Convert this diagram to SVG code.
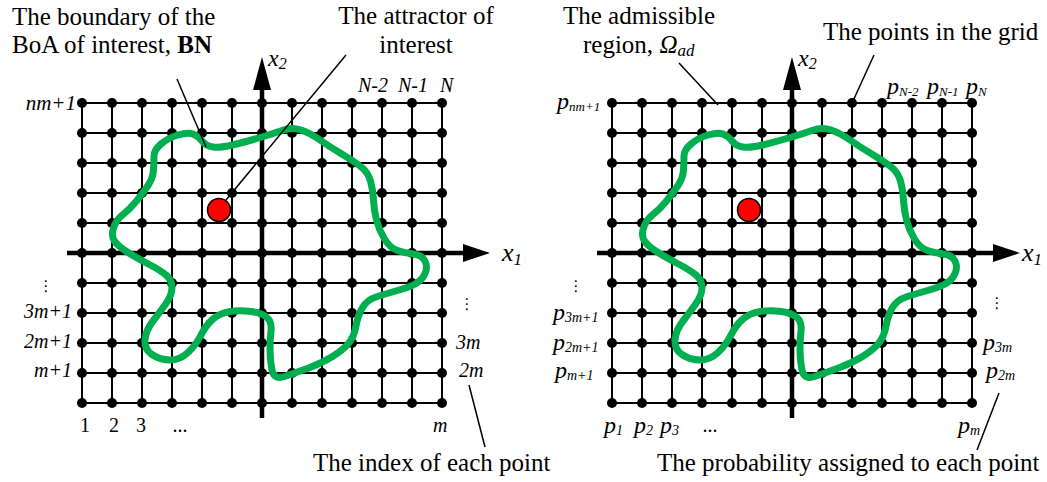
<svg xmlns="http://www.w3.org/2000/svg" width="1047" height="482" viewBox="0 0 1047 482">
<style>
.t{font-family:"Liberation Serif","Times New Roman",serif;font-size:25px;fill:#000}
.i{font-family:"Liberation Serif","Times New Roman",serif;font-style:italic;fill:#000}
.u{font-family:"Liberation Serif","Times New Roman",serif;font-size:20px;fill:#000}
.g{stroke:#000;stroke-width:2;fill:none}
.ax{stroke:#000;stroke-width:4.5;fill:none}
.boa{stroke:#00b050;stroke-width:7;fill:none;stroke-linejoin:round}
.lead{stroke:#000;stroke-width:1.5;fill:none}
.att{fill:#ff0000;stroke:#000;stroke-width:1.5}
.v{font-family:"DejaVu Sans",sans-serif;font-size:15px;fill:#000}
</style>
<defs>
<pattern id="dots" patternUnits="userSpaceOnUse" x="67" y="88" width="30" height="30"><circle cx="15" cy="15" r="5" fill="#000"/></pattern>
<g id="grid">
<path class="g" d="M82 103H442M82 133H442M82 163H442M82 193H442M82 223H442M82 283H442M82 313H442M82 343H442M82 373H442M82 403H442"/>
<path class="g" d="M82 103V403M112 103V403M142 103V403M172 103V403M202 103V403M232 103V403M292 103V403M322 103V403M352 103V403M382 103V403M412 103V403M442 103V403"/>
<path class="ax" d="M67 253H466M262 418V88"/>
<path d="M490 253L463 244L463 262ZM262 57L253 90L271 90Z" fill="#000"/>
<rect x="76" y="97" width="372" height="312" fill="url(#dots)"/>
</g>
<path id="boa" class="boa" d="M301,130 Q310,133 320,140 Q330,147 341,153.5 Q352,160 360,166 Q368,172 370.5,181 Q373,190 373.5,200 Q374,210 376.5,220 Q379,230 384.5,239 Q390,248 397.5,250.5 Q405,253 413.5,254 Q422,255 425,261 Q428,267 425,273.5 Q422,280 416,283.5 Q410,287 397.5,290.5 Q385,294 376,297 Q367,300 362.5,307.5 Q358,315 356,326 Q354,337 348.5,343.5 Q343,350 332.5,356.5 Q322,363 308.5,368 Q295,373 284.5,376.5 Q274,380 272,370 Q270,360 270,350 Q270,340 271,331 Q272,322 267,317.5 Q262,313 251,311.5 Q240,310 230,311.5 Q220,313 213,319 Q206,325 201,335 Q196,345 188,352.5 Q180,360 170,360 Q160,360 152,354.5 Q144,349 145,339.5 Q146,330 153,321 Q160,312 166,303.5 Q172,295 172,287.5 Q172,280 166,275 Q160,270 147.5,263.5 Q135,257 126.5,251.5 Q118,246 114.5,241 Q111,236 113.5,228 Q116,220 123,214.5 Q130,209 136.5,201 Q143,193 148,185.5 Q153,178 153.5,170 Q154,162 154,156 Q154,150 161,144 Q168,138 178,135 Q188,132 193,134 Q198,136 202,141 Q206,146 213,147 Q220,148 232.5,145 Q245,142 258.5,138 Q272,134 282,130.5 Q292,127 301,130 Z"/>
</defs>

<g id="panel-index">
<use href="#grid"/>
<use href="#boa"/>
<circle id="attractor-left" class="att" cx="219" cy="210" r="11.5"/>
<text class="i" x="268" y="66" font-size="24">x<tspan font-size="16" dy="3">2</tspan></text>
<text class="i" x="502" y="261" font-size="26">x<tspan font-size="17" dy="4">1</tspan></text>
<text class="i" font-size="20" x="358" y="92">N-2</text>
<text class="i" font-size="20" x="398" y="92">N-1</text>
<text class="i" font-size="20" x="440" y="92">N</text>
<text class="i" font-size="21" x="76" y="110" text-anchor="end">nm+1</text>
<text class="v" x="46" y="291" text-anchor="middle">⋮</text>
<text class="i" font-size="20" x="72" y="318" text-anchor="end">3m+1</text>
<text class="i" font-size="20" x="72" y="348" text-anchor="end">2m+1</text>
<text class="i" font-size="20" x="72" y="377" text-anchor="end">m+1</text>
<text class="u" x="85" y="432" text-anchor="middle">1</text>
<text class="u" x="114" y="432" text-anchor="middle">2</text>
<text class="u" x="141" y="432" text-anchor="middle">3</text>
<text class="u" x="180" y="432" text-anchor="middle">...</text>
<text class="v" x="467" y="309" text-anchor="middle">⋮</text>
<text class="i" font-size="20" x="456" y="349">3m</text>
<text class="i" font-size="20" x="459" y="377">2m</text>
<text class="i" font-size="20" x="433" y="432">m</text>
<text class="t" x="12" y="25">The boundary of the</text>
<text class="t" x="12" y="53">BoA of interest, <tspan font-weight="bold">BN</tspan></text>
<text class="t" x="416" y="24" text-anchor="middle">The attractor of</text>
<text class="t" x="416" y="53" text-anchor="middle">interest</text>
<text class="t" x="313" y="471">The index of each point</text>
</g>

<g id="panel-probability">
<use href="#grid" x="530"/>
<use href="#boa" x="530"/>
<circle id="attractor-right" class="att" cx="749" cy="210" r="11.5"/>
<text class="i" x="798" y="66" font-size="24">x<tspan font-size="16" dy="3">2</tspan></text>
<text class="i" x="1022" y="261" font-size="26">x<tspan font-size="17" dy="4">1</tspan></text>
<text class="i" font-size="24" x="887" y="94">p<tspan font-size="13" dy="2">N-2</tspan></text>
<text class="i" font-size="24" x="927" y="94">p<tspan font-size="13" dy="2">N-1</tspan></text>
<text class="i" font-size="24" x="966" y="94">p<tspan font-size="13" dy="2">N</tspan></text>
<text class="i" font-size="24" x="557" y="109">p<tspan font-size="13" dy="2">nm+1</tspan></text>
<text class="v" x="576" y="291" text-anchor="middle">⋮</text>
<text class="i" font-size="24" x="553" y="320">p<tspan font-size="14" dy="2">3m+1</tspan></text>
<text class="i" font-size="24" x="553" y="350">p<tspan font-size="14" dy="2">2m+1</tspan></text>
<text class="i" font-size="24" x="555" y="378">p<tspan font-size="14" dy="2">m+1</tspan></text>
<text class="i" font-size="24" x="604" y="433">p<tspan font-size="14" dy="2">1</tspan></text>
<text class="i" font-size="24" x="634" y="433">p<tspan font-size="14" dy="2">2</tspan></text>
<text class="i" font-size="24" x="660" y="433">p<tspan font-size="14" dy="2">3</tspan></text>
<text class="u" x="710" y="432" text-anchor="middle">...</text>
<text class="v" x="997" y="308" text-anchor="middle">⋮</text>
<text class="i" font-size="24" x="983" y="350">p<tspan font-size="14" dy="2">3m</tspan></text>
<text class="i" font-size="24" x="986" y="378">p<tspan font-size="14" dy="2">2m</tspan></text>
<text class="i" font-size="24" x="958" y="433">p<tspan font-size="14" dy="2">m</tspan></text>
<text class="t" x="639" y="24" text-anchor="middle">The admissible</text>
<text class="t" x="583" y="53">region, <tspan font-style="italic">Ω</tspan><tspan font-style="italic" font-size="17" dy="3">ad</tspan></text>
<text class="t" x="823" y="40">The points in the grid</text>
<text class="t" x="657" y="471">The probability assigned to each point</text>
</g>

<g id="connectors">
<line class="lead" x1="177" y1="79" x2="206" y2="147"/>
<line class="lead" x1="346" y1="55" x2="226" y2="200"/>
<line class="lead" x1="469" y1="385" x2="485" y2="447"/>
<line class="lead" x1="679" y1="63" x2="718" y2="105"/>
<line class="lead" x1="874" y1="55" x2="853" y2="101"/>
<line class="lead" x1="999" y1="393" x2="977" y2="450"/>
</g>
</svg>
